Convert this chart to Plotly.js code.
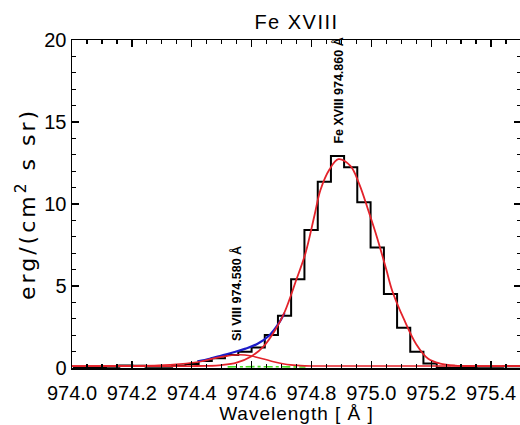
<!DOCTYPE html>
<html>
<head>
<meta charset="utf-8">
<script src="https://cdn.plot.ly/plotly-3.0.1.min.js"></script>
<style>
html,body{margin:0;padding:0;overflow:hidden;background:#fff;}
#chart{width:521px;height:425px;}
#chart .ytitle{letter-spacing:3px;}
#chart .xtitle{letter-spacing:1px;}
#chart .gtitle{letter-spacing:1.5px;}
</style>
</head>
<body>
<div id="chart"></div>
<script>
// Observed spectrum (histogram, bin centres in Angstrom)
var specWave = [974.003,974.047,974.091,974.136,974.180,974.224,974.268,974.312,974.357,974.401,
  974.445,974.489,974.533,974.578,974.622,974.666,974.710,974.754,974.799,974.843,
  974.887,974.931,974.975,975.020,975.064,975.108,975.152,975.196,975.241,975.285,
  975.329,975.373,975.417,975.462,975.506];
var specFlux = [0.05,0.05,0.05,0.08,0.15,0.14,0.08,0.08,0.15,0.25,
  0.42,0.60,0.79,0.99,1.25,2.01,3.19,5.41,8.41,11.36,
  12.93,12.24,10.10,7.34,4.51,2.46,0.99,0.28,0.02,0.0,
  0.05,0.08,0.08,0.10,0.10];

// Fe XVIII fitted component
var feWave = [974.00,974.20,974.40,974.45,974.50,974.55,974.60,974.64,974.68,974.71,974.75,974.78,974.81,974.83,974.86,974.89,974.93,974.96,974.99,975.02,975.05,975.07,975.11,975.15,975.19,975.23,975.28,975.35,975.50];
var feFlux = [0.12,0.12,0.12,0.13,0.18,0.33,0.72,1.32,2.35,3.40,5.41,7.00,9.30,10.85,12.10,12.73,12.32,11.20,9.60,7.90,6.00,4.70,2.93,1.45,0.56,0.27,0.15,0.12,0.12];

// Si VIII fitted component (small red curve)
var siWave = [974.00,974.20,974.29,974.36,974.43,974.47,974.52,974.56,974.60,974.62,974.67,974.73,974.78,974.90,975.50];
var siFlux = [0.12,0.13,0.16,0.24,0.40,0.57,0.74,0.81,0.73,0.64,0.40,0.19,0.13,0.12,0.12];

// Total fit (blue)
var sumWave = [974.42,974.46,974.50,974.54,974.58,974.62,974.66,974.69,974.71];
var sumFlux = [0.40,0.56,0.76,0.96,1.18,1.48,2.00,2.70,3.35];

// Green dash-dot component
var grWave = [974.52,974.58,974.65,974.72,974.78];
var grFlux = [0.07,0.08,0.08,0.07,0.06];

var lineLabels = [
  {text:'Fe XVIII 974.860 Å', x:974.889, y:16.92},
  {text:'Si VIII 974.580 Å', x:974.548, y:4.51}
];

var traces = [
  {x:specWave, y:specFlux, mode:'lines', line:{color:'#000000', width:2, shape:'hvh'}, hoverinfo:'skip'},
  {x:sumWave, y:sumFlux, mode:'lines', line:{color:'#1c1cc8', width:2.2, shape:'spline'}, hoverinfo:'skip'},
  {x:grWave, y:grFlux, mode:'lines', line:{color:'#44dd22', width:1.6, dash:'dashdot', shape:'spline'}, hoverinfo:'skip'},
  {x:siWave, y:siFlux, mode:'lines', line:{color:'#e3222a', width:1.6, shape:'spline'}, hoverinfo:'skip'},
  {x:feWave, y:feFlux, mode:'lines', line:{color:'#e3222a', width:1.8, shape:'spline'}, hoverinfo:'skip'}
];

var fontFam = 'Liberation Sans, Arial, sans-serif';

var layout = {
  width:521, height:425,
  margin:{l:72, r:0, t:40, b:57},
  paper_bgcolor:'#ffffff', plot_bgcolor:'#ffffff',
  showlegend:false,
  font:{family:fontFam, color:'#000000', size:20},
  title:{text:'Fe XVIII', font:{family:fontFam, size:20, color:'#000'}, x:0.5, xref:'paper', y:1-22/425, yref:'container', yanchor:'middle'},
  xaxis:{
    range:[974.0,975.5], tick0:974.0, dtick:0.2, tickformat:'.1f',
    showgrid:false, zeroline:false,
    showline:true, linecolor:'#000', linewidth:1.5, mirror:'allticks',
    ticks:'inside', ticklen:7, tickwidth:1.3, tickcolor:'#000',
    ticklabelstandoff:6,
    minor:{dtick:0.05, ticks:'inside', ticklen:4, tickwidth:1.3, tickcolor:'#000', showgrid:false},
    tickfont:{size:20, family:fontFam},
    title:{text:'Wavelength [ Å ]', font:{size:19, family:fontFam}, standoff:4}
  },
  yaxis:{
    range:[0,20], tick0:0, dtick:5,
    showgrid:false, zeroline:false,
    showline:true, linecolor:'#000', linewidth:1.5, mirror:'allticks',
    ticks:'inside', ticklen:7, tickwidth:1.3, tickcolor:'#000',
    minor:{dtick:1, ticks:'inside', ticklen:4, tickwidth:1.3, tickcolor:'#000', showgrid:false},
    tickfont:{size:20, family:fontFam},
    title:{text:'erg/(cm<sup>2</sup> s sr)', font:{size:22, family:'DejaVu Sans, sans-serif'}, standoff:2}
  },
  annotations: lineLabels.map(function(a){
    return {text:a.text, x:a.x, y:a.y, xref:'x', yref:'y', showarrow:false, textangle:-90,
      font:{family:fontFam, size:12.5, color:'#000', weight:'bold'}, xanchor:'center', yanchor:'middle'};
  })
};

Plotly.newPlot('chart', traces, layout, {displayModeBar:false, staticPlot:true});
</script>
</body>
</html>
